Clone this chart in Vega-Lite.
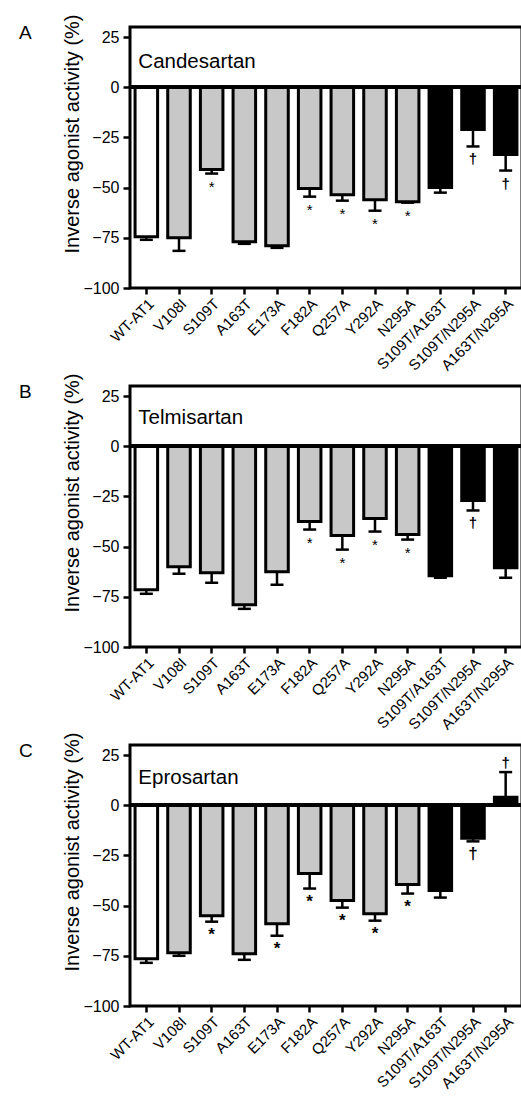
{
  "$schema": "https://vega.github.io/schema/vega-lite/v6.json",
  "background": "white",
  "padding": {"left": 17, "top": 12, "right": 0, "bottom": 0},
  "config": {
    "font": "Liberation Sans",
    "view": {"stroke": "black", "strokeWidth": 3},
    "axis": {"domain": false, "grid": false, "tickColor": "black", "tickWidth": 2.5, "labelColor": "black", "titleColor": "black", "labelFont": "Liberation Sans", "titleFont": "Liberation Sans"},
    "title": {"font": "Liberation Sans", "fontWeight": "normal", "color": "black"}
  },
  "datasets": {
    "d": [
      {"drug": "Candesartan", "mutant": "WT-AT1", "group": "wt", "value": -74.5, "whisker": -76, "sig": ""},
      {"drug": "Candesartan", "mutant": "V108I", "group": "single", "value": -75, "whisker": -81.5, "sig": ""},
      {"drug": "Candesartan", "mutant": "S109T", "group": "single", "value": -41, "whisker": -43, "sig": "*"},
      {"drug": "Candesartan", "mutant": "A163T", "group": "single", "value": -77, "whisker": -78, "sig": ""},
      {"drug": "Candesartan", "mutant": "E173A", "group": "single", "value": -79, "whisker": -80, "sig": ""},
      {"drug": "Candesartan", "mutant": "F182A", "group": "single", "value": -50.5, "whisker": -54.5, "sig": "*"},
      {"drug": "Candesartan", "mutant": "Q257A", "group": "single", "value": -53.5, "whisker": -56.5, "sig": "*"},
      {"drug": "Candesartan", "mutant": "Y292A", "group": "single", "value": -56, "whisker": -61.5, "sig": "*"},
      {"drug": "Candesartan", "mutant": "N295A", "group": "single", "value": -57, "whisker": -57.5, "sig": "*"},
      {"drug": "Candesartan", "mutant": "S109T/A163T", "group": "double", "value": -50, "whisker": -52.5, "sig": ""},
      {"drug": "Candesartan", "mutant": "S109T/N295A", "group": "double", "value": -21, "whisker": -29.5, "sig": "†"},
      {"drug": "Candesartan", "mutant": "A163T/N295A", "group": "double", "value": -33.5, "whisker": -41.5, "sig": "†"},
      {"drug": "Telmisartan", "mutant": "WT-AT1", "group": "wt", "value": -71.5, "whisker": -73.5, "sig": ""},
      {"drug": "Telmisartan", "mutant": "V108I", "group": "single", "value": -60, "whisker": -63.5, "sig": ""},
      {"drug": "Telmisartan", "mutant": "S109T", "group": "single", "value": -63, "whisker": -68, "sig": ""},
      {"drug": "Telmisartan", "mutant": "A163T", "group": "single", "value": -79, "whisker": -81, "sig": ""},
      {"drug": "Telmisartan", "mutant": "E173A", "group": "single", "value": -62.5, "whisker": -69, "sig": ""},
      {"drug": "Telmisartan", "mutant": "F182A", "group": "single", "value": -37.5, "whisker": -41.5, "sig": "*"},
      {"drug": "Telmisartan", "mutant": "Q257A", "group": "single", "value": -44.5, "whisker": -51.5, "sig": "*"},
      {"drug": "Telmisartan", "mutant": "Y292A", "group": "single", "value": -36, "whisker": -42.5, "sig": "*"},
      {"drug": "Telmisartan", "mutant": "N295A", "group": "single", "value": -44, "whisker": -46.5, "sig": "*"},
      {"drug": "Telmisartan", "mutant": "S109T/A163T", "group": "double", "value": -64.5, "whisker": -65.5, "sig": ""},
      {"drug": "Telmisartan", "mutant": "S109T/N295A", "group": "double", "value": -27, "whisker": -32, "sig": "†"},
      {"drug": "Telmisartan", "mutant": "A163T/N295A", "group": "double", "value": -60.5, "whisker": -65.5, "sig": ""},
      {"drug": "Eprosartan", "mutant": "WT-AT1", "group": "wt", "value": -76.5, "whisker": -78.5, "sig": ""},
      {"drug": "Eprosartan", "mutant": "V108I", "group": "single", "value": -73.5, "whisker": -75, "sig": ""},
      {"drug": "Eprosartan", "mutant": "S109T", "group": "single", "value": -55, "whisker": -58, "sig": "*"},
      {"drug": "Eprosartan", "mutant": "A163T", "group": "single", "value": -74, "whisker": -77, "sig": ""},
      {"drug": "Eprosartan", "mutant": "E173A", "group": "single", "value": -59, "whisker": -65, "sig": "*"},
      {"drug": "Eprosartan", "mutant": "F182A", "group": "single", "value": -34, "whisker": -41.5, "sig": "*"},
      {"drug": "Eprosartan", "mutant": "Q257A", "group": "single", "value": -47.5, "whisker": -51, "sig": "*"},
      {"drug": "Eprosartan", "mutant": "Y292A", "group": "single", "value": -54, "whisker": -57.5, "sig": "*"},
      {"drug": "Eprosartan", "mutant": "N295A", "group": "single", "value": -39.5, "whisker": -44, "sig": "*"},
      {"drug": "Eprosartan", "mutant": "S109T/A163T", "group": "double", "value": -42.5, "whisker": -46, "sig": ""},
      {"drug": "Eprosartan", "mutant": "S109T/N295A", "group": "double", "value": -16.5, "whisker": -18, "sig": "†"},
      {"drug": "Eprosartan", "mutant": "A163T/N295A", "group": "double", "value": 4, "whisker": 16.5, "sig": "†"}
    ]
  },
  "spacing": -4,
  "vconcat": [
    {
      "title": {"text": "A", "anchor": "start", "frame": "bounds", "fontSize": 19, "dx": -44, "dy": 33},
      "width": 392, "height": 261,
      "data": {"name": "d"},
      "transform": [{"filter": "datum.drug === 'Candesartan'"}],
      "encoding": {
        "x": {"field": "mutant", "type": "nominal", "sort": null, "scale": {"paddingInner": 0.31, "paddingOuter": 0.155}, "axis": {"title": null, "labelAngle": -45, "labelFontSize": 15, "tickSize": 6, "labelPadding": 2}}
      },
      "layer": [
        {"mark": {"type": "bar", "stroke": "black", "strokeWidth": 3},
         "encoding": {
           "y": {"field": "value", "type": "quantitative", "scale": {"domain": [-100, 25]}, "axis": {"title": "Inverse agonist activity (%)", "titleFontSize": 20, "titleFontWeight": "normal", "titlePadding": 0, "titleY": 106.5, "labelFontSize": 16, "values": [-100, -75, -50, -25, 0, 25], "tickSize": 7, "labelPadding": 4}},
           "fill": {"field": "group", "type": "nominal", "scale": {"domain": ["wt", "single", "double"], "range": ["white", "#c8c8c8", "black"]}, "legend": null}}},
        {"mark": {"type": "rule", "strokeWidth": 2.5, "color": "black"},
         "encoding": {"y": {"field": "value", "type": "quantitative"}, "y2": {"field": "whisker"}}},
        {"mark": {"type": "tick", "thickness": 2.5, "size": 13, "color": "black", "opacity": 1},
         "encoding": {"y": {"field": "whisker", "type": "quantitative"}}},
        {"mark": {"type": "rule", "strokeWidth": 3, "color": "black"},
         "encoding": {"y": {"datum": 0, "type": "quantitative"}, "x": null}},
        {"transform": [{"filter": "datum.value < 0 && datum.sig === '*'"}],
         "mark": {"type": "text", "baseline": "middle", "dy": 13, "fontSize": 15, "color": "black"},
         "encoding": {"y": {"field": "whisker", "type": "quantitative"}, "text": {"field": "sig"}}},
        {"transform": [{"filter": "datum.value < 0 && datum.sig === '†'"}],
         "mark": {"type": "text", "baseline": "middle", "dy": 13, "fontSize": 15, "fontWeight": "bold", "color": "black"},
         "encoding": {"y": {"field": "whisker", "type": "quantitative"}, "text": {"field": "sig"}}},
        {"data": {"values": [{"label": "Candesartan"}]},
         "mark": {"type": "text", "align": "left", "baseline": "alphabetic", "dx": -8, "fontSize": 20.5, "color": "black"},
         "encoding": {"x": {"datum": "WT-AT1"}, "y": {"datum": 9.7, "type": "quantitative"}, "text": {"field": "label"}}}
      ]
    },
    {
      "title": {"text": "B", "anchor": "start", "frame": "bounds", "fontSize": 19, "dx": -44, "dy": 33},
      "width": 392, "height": 261,
      "data": {"name": "d"},
      "transform": [{"filter": "datum.drug === 'Telmisartan'"}],
      "encoding": {
        "x": {"field": "mutant", "type": "nominal", "sort": null, "scale": {"paddingInner": 0.31, "paddingOuter": 0.155}, "axis": {"title": null, "labelAngle": -45, "labelFontSize": 15, "tickSize": 6, "labelPadding": 2}}
      },
      "layer": [
        {"mark": {"type": "bar", "stroke": "black", "strokeWidth": 3},
         "encoding": {
           "y": {"field": "value", "type": "quantitative", "scale": {"domain": [-100, 25]}, "axis": {"title": "Inverse agonist activity (%)", "titleFontSize": 20, "titleFontWeight": "normal", "titlePadding": 0, "titleY": 106.5, "labelFontSize": 16, "values": [-100, -75, -50, -25, 0, 25], "tickSize": 7, "labelPadding": 4}},
           "fill": {"field": "group", "type": "nominal", "scale": {"domain": ["wt", "single", "double"], "range": ["white", "#c8c8c8", "black"]}, "legend": null}}},
        {"mark": {"type": "rule", "strokeWidth": 2.5, "color": "black"},
         "encoding": {"y": {"field": "value", "type": "quantitative"}, "y2": {"field": "whisker"}}},
        {"mark": {"type": "tick", "thickness": 2.5, "size": 13, "color": "black", "opacity": 1},
         "encoding": {"y": {"field": "whisker", "type": "quantitative"}}},
        {"mark": {"type": "rule", "strokeWidth": 3, "color": "black"},
         "encoding": {"y": {"datum": 0, "type": "quantitative"}, "x": null}},
        {"transform": [{"filter": "datum.value < 0 && datum.sig === '*'"}],
         "mark": {"type": "text", "baseline": "middle", "dy": 13, "fontSize": 15, "color": "black"},
         "encoding": {"y": {"field": "whisker", "type": "quantitative"}, "text": {"field": "sig"}}},
        {"transform": [{"filter": "datum.value < 0 && datum.sig === '†'"}],
         "mark": {"type": "text", "baseline": "middle", "dy": 13, "fontSize": 15, "fontWeight": "bold", "color": "black"},
         "encoding": {"y": {"field": "whisker", "type": "quantitative"}, "text": {"field": "sig"}}},
        {"data": {"values": [{"label": "Telmisartan"}]},
         "mark": {"type": "text", "align": "left", "baseline": "alphabetic", "dx": -8, "fontSize": 20.5, "color": "black"},
         "encoding": {"x": {"datum": "WT-AT1"}, "y": {"datum": 11.3, "type": "quantitative"}, "text": {"field": "label"}}}
      ]
    },
    {
      "title": {"text": "C", "anchor": "start", "frame": "bounds", "fontSize": 19, "dx": -44, "dy": 33},
      "width": 392, "height": 261,
      "data": {"name": "d"},
      "transform": [{"filter": "datum.drug === 'Eprosartan'"}],
      "encoding": {
        "x": {"field": "mutant", "type": "nominal", "sort": null, "scale": {"paddingInner": 0.31, "paddingOuter": 0.155}, "axis": {"title": null, "labelAngle": -45, "labelFontSize": 15, "tickSize": 6, "labelPadding": 2}}
      },
      "layer": [
        {"mark": {"type": "bar", "stroke": "black", "strokeWidth": 3},
         "encoding": {
           "y": {"field": "value", "type": "quantitative", "scale": {"domain": [-100, 25]}, "axis": {"title": "Inverse agonist activity (%)", "titleFontSize": 20, "titleFontWeight": "normal", "titlePadding": 0, "titleY": 106.5, "labelFontSize": 16, "values": [-100, -75, -50, -25, 0, 25], "tickSize": 7, "labelPadding": 4}},
           "fill": {"field": "group", "type": "nominal", "scale": {"domain": ["wt", "single", "double"], "range": ["white", "#c8c8c8", "black"]}, "legend": null}}},
        {"mark": {"type": "rule", "strokeWidth": 2.5, "color": "black"},
         "encoding": {"y": {"field": "value", "type": "quantitative"}, "y2": {"field": "whisker"}}},
        {"mark": {"type": "tick", "thickness": 2.5, "size": 13, "color": "black", "opacity": 1},
         "encoding": {"y": {"field": "whisker", "type": "quantitative"}}},
        {"mark": {"type": "rule", "strokeWidth": 3, "color": "black"},
         "encoding": {"y": {"datum": 0, "type": "quantitative"}, "x": null}},
        {"transform": [{"filter": "datum.value < 0"}],
         "mark": {"type": "text", "baseline": "middle", "dy": 13, "fontSize": 17, "fontWeight": "bold", "color": "black"},
         "encoding": {"y": {"field": "whisker", "type": "quantitative"}, "text": {"field": "sig"}}},
        {"transform": [{"filter": "datum.value >= 0"}],
         "mark": {"type": "text", "baseline": "middle", "dy": -9, "fontSize": 15, "fontWeight": "bold", "color": "black"},
         "encoding": {"y": {"field": "whisker", "type": "quantitative"}, "text": {"field": "sig"}}},
        {"data": {"values": [{"label": "Eprosartan"}]},
         "mark": {"type": "text", "align": "left", "baseline": "alphabetic", "dx": -8, "fontSize": 20.5, "color": "black"},
         "encoding": {"x": {"datum": "WT-AT1"}, "y": {"datum": 10.4, "type": "quantitative"}, "text": {"field": "label"}}}
      ]
    }
  ]
}
